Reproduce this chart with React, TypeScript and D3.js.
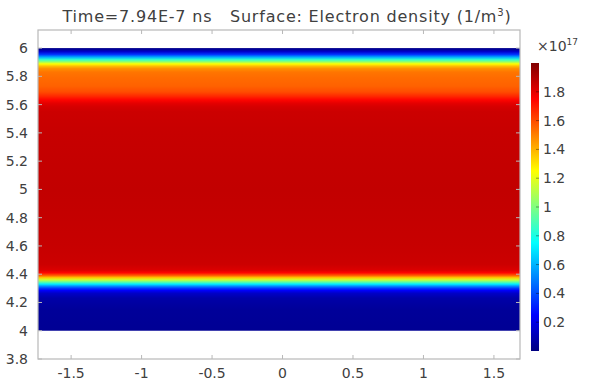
import React from "react";
import * as d3 from "d3";

// Vertical profile of electron density (units of 1e17 1/m^3) across y
const profileY = [6.0, 5.99, 5.975, 5.955, 5.935, 5.918, 5.902, 5.888, 5.872, 5.855, 5.83, 5.79, 5.73, 5.69, 5.66, 5.635, 5.61, 5.585, 5.55, 5.4, 5.0, 4.6, 4.47, 4.43, 4.41, 4.39, 4.375, 4.36, 4.345, 4.33, 4.315, 4.3, 4.285, 4.265, 4.23, 4.15, 4.0];
const profileV = [0.02, 0.05, 0.15, 0.35, 0.6, 0.85, 1.05, 1.25, 1.38, 1.47, 1.52, 1.54, 1.56, 1.6, 1.67, 1.74, 1.8, 1.83, 1.85, 1.86, 1.87, 1.86, 1.85, 1.82, 1.74, 1.55, 1.35, 1.15, 0.95, 0.72, 0.52, 0.36, 0.24, 0.14, 0.08, 0.05, 0.04];

const xTicks = [-1.5, -1, -0.5, 0, 0.5, 1, 1.5];
const yTicks = [3.8, 4, 4.2, 4.4, 4.6, 4.8, 5, 5.2, 5.4, 5.6, 5.8, 6];
const cbTicks = [0.2, 0.4, 0.6, 0.8, 1, 1.2, 1.4, 1.6, 1.8];
const xDomain = [-1.735, 1.685];
const yDomain = [3.8, 6.128];
const dataXRange = [-1.735, 1.685];
const dataYRange = [4.0, 6.0];
const colorDomain = [0, 2.0];

function jet(t: number): string {
  const c = (v: number) => Math.max(0, Math.min(1, v));
  const r = c(1.5 - Math.abs(4 * t - 3));
  const g = c(1.5 - Math.abs(4 * t - 2));
  const b = c(1.5 - Math.abs(4 * t - 1));
  return d3.rgb(r * 255, g * 255, b * 255).formatHex();
}

export default function App() {
  const W = 590, H = 385;
  const x = d3.scaleLinear().domain(xDomain).range([38, 520]);
  const y = d3.scaleLinear().domain(yDomain).range([359, 30]);
  const cScale = d3.scaleLinear().domain(colorDomain).range([0, 1]).clamp(true);
  const cbY = d3.scaleLinear().domain(colorDomain).range([351, 63]);

  const top = y(dataYRange[1]);
  const bot = y(dataYRange[0]);
  const fmt = (v: number) => String(v);

  const cbStops = d3.range(0, 1.0001, 0.025);
  const frame = "#b8b8b8";
  const textCol = "#404040";
  const font = "DejaVu Sans, Verdana, sans-serif";

  return (
    <svg width={W} height={H} style={{ position: "absolute", left: 0, top: 0, background: "#fff" }}>
      <defs>
        <linearGradient id="prof" gradientUnits="userSpaceOnUse" x1={0} y1={top} x2={0} y2={bot}>
          {profileY.map((py, i) => (
            <stop key={i} offset={(y(py) - top) / (bot - top)} stopColor={jet(cScale(profileV[i]))} />
          ))}
        </linearGradient>
        <linearGradient id="cb" x1={0} y1={1} x2={0} y2={0}>
          {cbStops.map((t, i) => (
            <stop key={i} offset={t} stopColor={jet(t)} />
          ))}
        </linearGradient>
      </defs>
      <rect x={0} y={0} width={W} height={H} fill="#fff" />
      {/* data surface */}
      <rect x={x(dataXRange[0])} y={top} width={x(dataXRange[1]) - x(dataXRange[0])} height={bot - top} fill="url(#prof)" />
      {/* frame */}
      <rect x={x(xDomain[0])} y={y(yDomain[1])} width={x(xDomain[1]) - x(xDomain[0])} height={y(yDomain[0]) - y(yDomain[1])} fill="none" stroke={frame} strokeWidth={1.2} />
      {/* x ticks */}
      {xTicks.map((t) => (
        <g key={"x" + t}>
          <line x1={x(t)} x2={x(t)} y1={y(yDomain[0])} y2={y(yDomain[0]) - 4} stroke={frame} />
          <line x1={x(t)} x2={x(t)} y1={y(yDomain[1])} y2={y(yDomain[1]) + 4} stroke={frame} />
          <text x={x(t)} y={378} textAnchor="middle" fontFamily={font} fontSize={14} fill={textCol}>{fmt(t)}</text>
        </g>
      ))}
      {/* y ticks */}
      {yTicks.map((t) => (
        <g key={"y" + t}>
          <line x1={x(xDomain[0])} x2={x(xDomain[0]) + 4} y1={y(t)} y2={y(t)} stroke={frame} />
          <line x1={x(xDomain[1])} x2={x(xDomain[1]) - 4} y1={y(t)} y2={y(t)} stroke={frame} />
          <text x={28} y={y(t) + 5} textAnchor="end" fontFamily={font} fontSize={14} fill={textCol}>{fmt(t)}</text>
        </g>
      ))}
      {/* title */}
      <text x={287} y={22} textAnchor="middle" fontFamily={font} fontSize={16} letterSpacing={0.8} fill={textCol} style={{ whiteSpace: "pre" }}>
        {"Time=7.94E-7 ns   Surface: Electron density (1/m"}
        <tspan fontSize={10} dy={-6}>3</tspan>
        <tspan dy={6}>)</tspan>
      </text>
      {/* colorbar */}
      <rect x={531} y={cbY(colorDomain[1])} width={8} height={cbY(colorDomain[0]) - cbY(colorDomain[1])} fill="url(#cb)" />
      {cbTicks.map((t) => (
        <g key={"c" + t}>
          <line x1={536} x2={539} y1={cbY(t)} y2={cbY(t)} stroke="#000" strokeOpacity={0.4} />
          <text x={543} y={cbY(t) + 5} fontFamily={font} fontSize={14} fill={textCol}>{fmt(t)}</text>
        </g>
      ))}
      <text x={537} y={51} fontFamily={font} fontSize={14} fill={textCol}>
        {"×10"}
        <tspan fontSize={9} dy={-6}>17</tspan>
      </text>
    </svg>
  );
}
